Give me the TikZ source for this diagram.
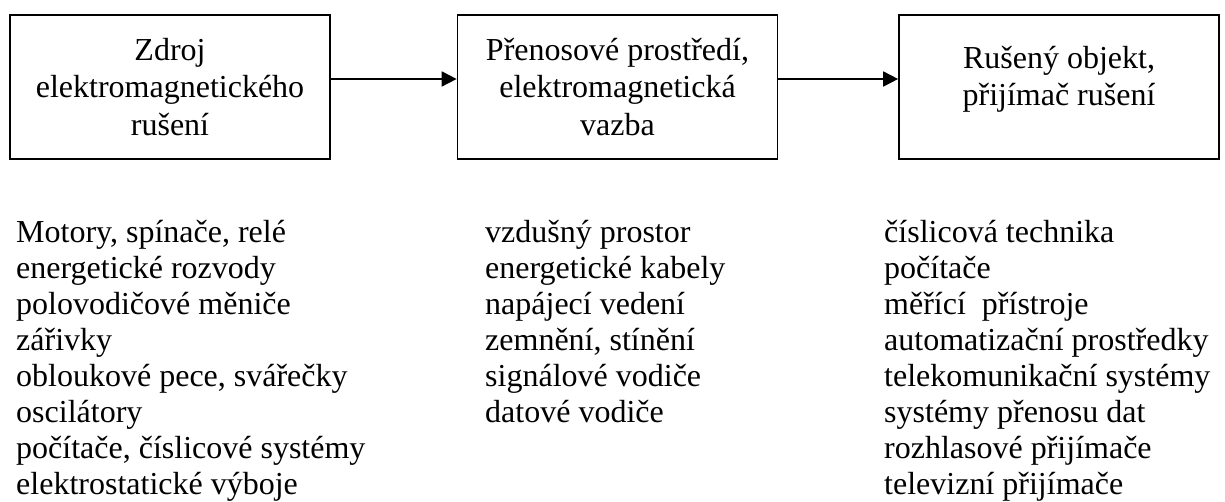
\documentclass[tikz,border=0pt]{standalone}
\usepackage{fontspec}
\setmainfont{Liberation Serif}
\usetikzlibrary{arrows.meta}
\tikzset{
  box/.style={draw, line width=1.7pt, minimum width=320pt, minimum height=144pt, inner sep=0pt,
    align=center, font=\fontsize{32}{37.5}\selectfont},
  arr/.style={line width=1.8pt, -{Triangle[length=15pt,width=15pt]}},
  lst/.style={align=left, anchor=base west, inner sep=0pt, font=\fontsize{32}{36}\selectfont}
}
\begin{document}
\begin{tikzpicture}[x=1pt,y=-1pt]
\useasboundingbox (0,0) rectangle (1225,502);
\node[box] (b1) at (170,87) {Zdroj\\elektromagnetického\\rušení};
\node[box] (b2) at (617.5,87) {Přenosové prostředí,\\elektromagnetická\\vazba};
\node[box] (b3) at (1059,87) {Rušený objekt,\\přijímač rušení\rule[-22pt]{0pt}{0pt}};
\draw[arr] ([yshift=8pt]b1.east) -- ([yshift=8pt]b2.west);
\draw[arr] ([yshift=8pt]b2.east) -- ([yshift=8pt]b3.west);
\node[lst] (l1) at (16,494) {Motory, spínače, relé\\energetické rozvody\\polovodičové měniče\\zářivky\\obloukové pece, svářečky\\oscilátory\\počítače, číslicové systémy\\elektrostatické výboje};
\node[lst] (l2) at (485,422) {vzdušný prostor\\energetické kabely\\napájecí vedení\\zemnění, stínění\\signálové vodiče\\datové vodiče};
\node[lst] (l3) at (884,494) {číslicová technika\\počítače\\měřící\ \ přístroje\\automatizační prostředky\\telekomunikační systémy\\systémy přenosu dat\\rozhlasové přijímače\\televizní přijímače};
\end{tikzpicture}
\end{document}
